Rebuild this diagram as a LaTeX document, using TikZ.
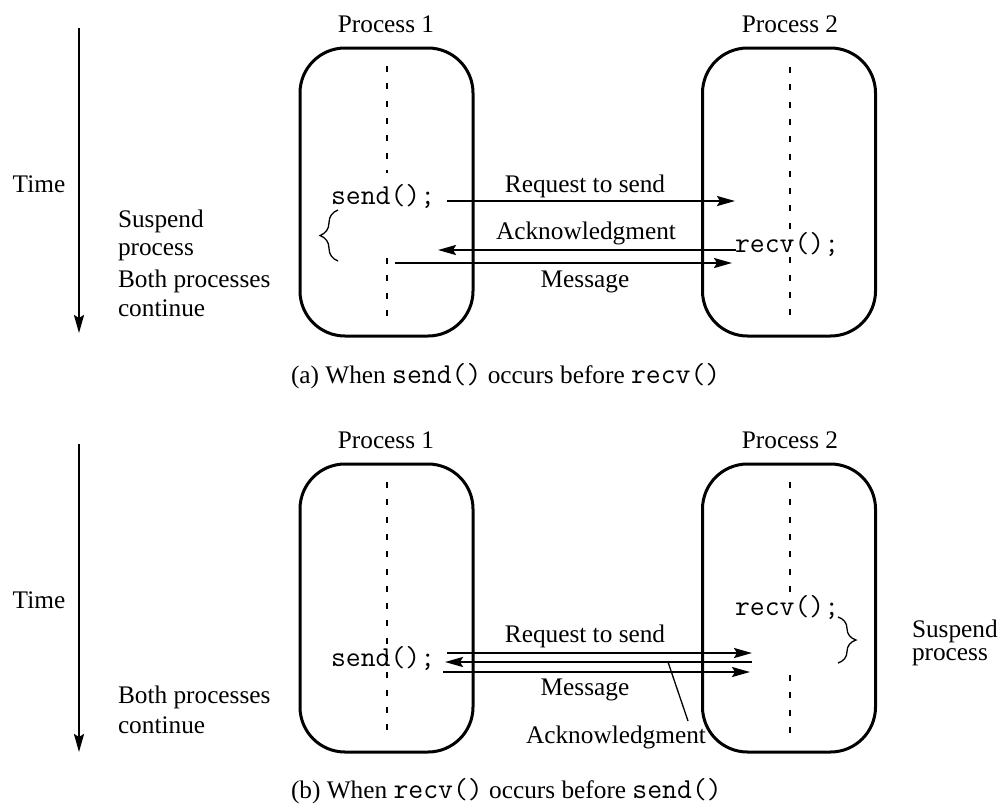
\documentclass[tikz,border=0pt]{standalone}
\usepackage{fontspec}
\setmainfont{Liberation Serif}
\usetikzlibrary{arrows.meta,decorations.pathreplacing}
% monospaced code uses Latin Modern Mono, enlarged to Courier-like advance widths
\newcommand{\codefont}{\fontsize{28.9}{32}\selectfont\ttfamily}
\newcommand{\cd}[1]{{\codefont #1}}

\begin{document}
\begin{tikzpicture}[x=1pt,y=-1pt,
  every node/.style={inner sep=0pt, outer sep=0pt, font=\fontsize{25.3}{29}\selectfont},
  procbox/.style={draw, line width=3pt, rounded corners=45pt, minimum width=173pt, minimum height=288pt},
  lifeline/.style={line width=2.2pt, dash pattern=on 6pt off 11.3pt},
  msg/.style={line width=2.2pt, -{Stealth[length=18pt,width=10pt,inset=3pt]}},
  timeax/.style={line width=2.4pt, -{Stealth[length=18pt,width=10pt,inset=3pt]}},
  suspbrace/.style={decorate, decoration={brace, amplitude=18pt}, line width=1.3pt},
  leader/.style={line width=1.3pt},
  code/.style={font=\codefont, anchor=base west},
  lbl/.style={anchor=base},
  side/.style={anchor=base west},
]
\useasboundingbox (0,0) rectangle (1001,804);

% ---------------- (a) send() before recv() ----------------
\node[procbox] (p1a) at (386.5,192) {};
\node[procbox] (p2a) at (789,192) {};
\node[lbl] (p1alab) at (386,32) {Process 1};
\node[lbl] (p2alab) at (790,32) {Process 2};

\coordinate (ta0) at (79,28);
\coordinate (ta1) at (79,333);
\draw[timeax] (ta0) -- (ta1);
\node[lbl] (timea) at (39,192) {Time};
\node[side] (susa1) at (118,227) {Suspend};
\node[side] (susa2) at (118,255) {process};
\node[side] (conta1) at (118,287) {Both processes};
\node[side] (conta2) at (118,316) {continue};

% life lines
\coordinate (l1a0) at (387,66);  \coordinate (l1a1) at (387,173);
\coordinate (l1a2) at (387,258); \coordinate (l1a3) at (387,317);
\coordinate (l2a0) at (790,67);  \coordinate (l2a1) at (790,317);
\draw[lifeline] (l1a0) -- (l1a1);
\draw[lifeline] (l1a2) -- (l1a3);
\draw[lifeline] (l2a0) -- (l2a1);

\node[code] (senda) at (331,204) {send();};
\node[code] (recva) at (735,252) {recv();};

% messages
\coordinate (rqa0) at (447,201); \coordinate (rqa1) at (735,201);
\coordinate (aka0) at (736,250); \coordinate (aka1) at (438,250);
\coordinate (mga0) at (395,263); \coordinate (mga1) at (732,263);
\draw[msg] (rqa0) -- (rqa1);
\draw[msg] (aka0) -- (aka1);
\draw[msg] (mga0) -- (mga1);
\node[lbl] (rqalab) at (585,192) {Request to send};
\node[lbl] (akalab) at (586,239) {Acknowledgment};
\node[lbl] (mgalab) at (585,287) {Message};

\coordinate (bra0) at (338,261); \coordinate (bra1) at (338,210);
\draw[suspbrace] (bra0) -- (bra1);

\node[anchor=base west] (capa) at (291,383) {(a) When \cd{send()} occurs before \cd{recv()}};

% ---------------- (b) recv() before send() ----------------
\node[procbox] (p1b) at (386.5,608) {};
\node[procbox] (p2b) at (789,608) {};
\node[lbl] (p1blab) at (386,448) {Process 1};
\node[lbl] (p2blab) at (790,448) {Process 2};

\coordinate (tb0) at (79,444);
\coordinate (tb1) at (79,752);
\draw[timeax] (tb0) -- (tb1);
\node[lbl] (timeb) at (39,608) {Time};
\node[side] (contb1) at (118,703) {Both processes};
\node[side] (contb2) at (118,733) {continue};

\coordinate (l1b0) at (387,482); \coordinate (l1b1) at (387,733);
\coordinate (l2b0) at (790,482); \coordinate (l2b1) at (790,593);
\coordinate (l2b2) at (790,675); \coordinate (l2b3) at (790,733);
\draw[lifeline] (l1b0) -- (l1b1);
\draw[lifeline] (l2b0) -- (l2b1);
\draw[lifeline] (l2b2) -- (l2b3);

\node[code] (sendb) at (331,666) {send();};
\node[code] (recvb) at (735,615) {recv();};

\coordinate (rqb0) at (447,653); \coordinate (rqb1) at (752,653);
\coordinate (akb0) at (752,662); \coordinate (akb1) at (445,662);
\coordinate (mgb0) at (443,672); \coordinate (mgb1) at (750,672);
\draw[msg] (rqb0) -- (rqb1);
\draw[msg] (akb0) -- (akb1);
\draw[msg] (mgb0) -- (mgb1);
\node[lbl] (rqblab) at (585,642) {Request to send};
\node[lbl] (mgblab) at (585,695) {Message};
\node[lbl] (akblab) at (616,743) {Acknowledgment};
\coordinate (ldb0) at (668,662); \coordinate (ldb1) at (688,721);
\draw[leader] (ldb0) -- (ldb1);

\coordinate (brb0) at (838,617); \coordinate (brb1) at (838,663);
\draw[suspbrace] (brb0) -- (brb1);
\node[side] (susb1) at (912,637) {Suspend};
\node[side] (susb2) at (912,660) {process};

\node[anchor=base west] (capb) at (291,798) {(b) When \cd{recv()} occurs before \cd{send()}};
\end{tikzpicture}
\end{document}
